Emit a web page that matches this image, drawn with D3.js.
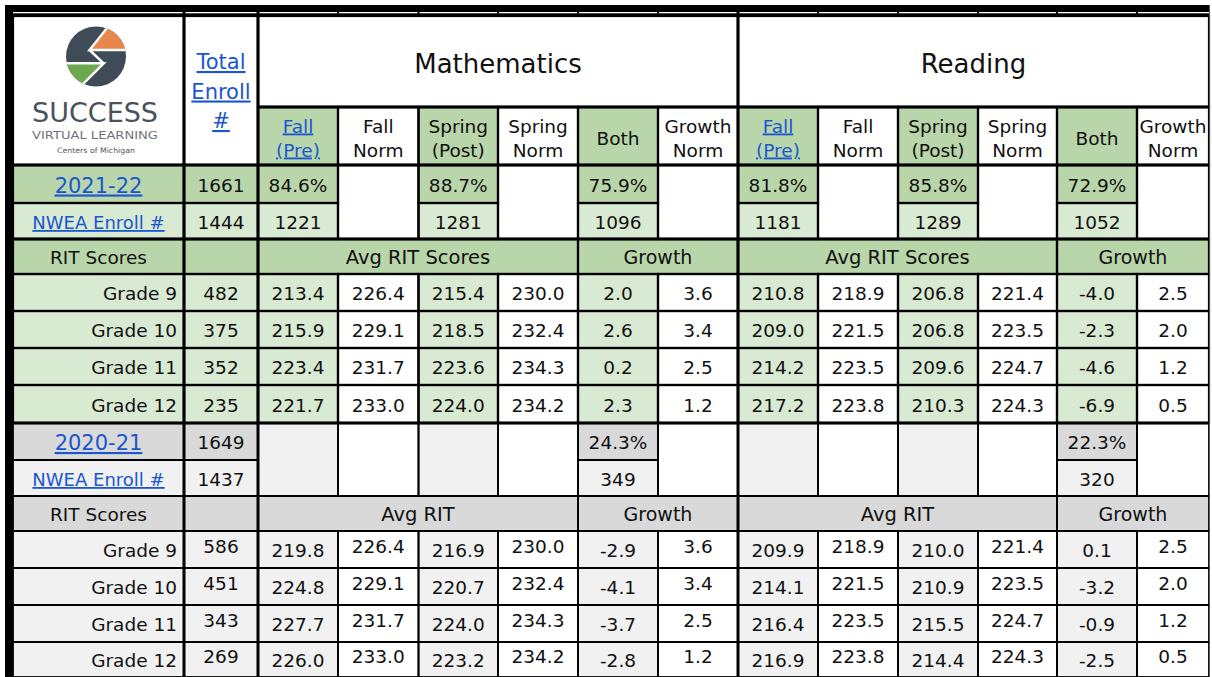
<!DOCTYPE html>
<html><head><meta charset="utf-8">
<script src="https://cdn.jsdelivr.net/npm/d3@7"></script>
<style>
html,body{margin:0;padding:0;background:#fff;}
svg{display:block;}
text{font-family:"DejaVu Sans",sans-serif;}
</style></head><body>
<svg id="chart" width="1212" height="677"></svg>
<script>
// ---------------- DATA ----------------
const subjects = ["Mathematics", "Reading"];
const measureHeaders = [["Fall","(Pre)"],["Fall","Norm"],["Spring","(Post)"],["Spring","Norm"],["Both"],["Growth","Norm"]];
const years = ["2021-22", "2020-21"];
const grades = ["Grade 9", "Grade 10", "Grade 11", "Grade 12"];
const totalEnrollLabel = ["Total", "Enroll", "#"];
const nweaLabel = "NWEA Enroll #";
const ritLabel = "RIT Scores";
const groupLabels = ["Avg RIT Scores", "Avg RIT"];
const growthLabel = "Growth";
const totalEnroll = [1661, 1649];
const nweaEnroll = [1444, 1437];
// 2021-22 participation per subject: Fall, Spring, Both
const pct2122Math = ["84.6%", "88.7%", "75.9%"];
const pct2122Read = ["81.8%", "85.8%", "72.9%"];
const cnt2122Math = [1221, 1281, 1096];
const cnt2122Read = [1181, 1289, 1052];
// 2020-21 participation (Both only) per subject
const pct2021Both = ["24.3%", "22.3%"];
const cnt2021Both = [349, 320];
const gradeEnroll2122 = [482, 375, 352, 235];
const gradeEnroll2021 = [586, 451, 343, 269];
// rows: Fall, Fall Norm, Spring, Spring Norm, Both growth, Growth Norm
const math2122 = [[213.4,226.4,215.4,230.0,2.0,3.6],[215.9,229.1,218.5,232.4,2.6,3.4],[223.4,231.7,223.6,234.3,0.2,2.5],[221.7,233.0,224.0,234.2,2.3,1.2]];
const read2122 = [[210.8,218.9,206.8,221.4,-4.0,2.5],[209.0,221.5,206.8,223.5,-2.3,2.0],[214.2,223.5,209.6,224.7,-4.6,1.2],[217.2,223.8,210.3,224.3,-6.9,0.5]];
const math2021 = [[219.8,226.4,216.9,230.0,-2.9,3.6],[224.8,229.1,220.7,232.4,-4.1,3.4],[227.7,231.7,224.0,234.3,-3.7,2.5],[226.0,233.0,223.2,234.2,-2.8,1.2]];
const read2021 = [[209.9,218.9,210.0,221.4,0.1,2.5],[214.1,221.5,210.9,223.5,-3.2,2.0],[216.4,223.5,215.5,224.7,-0.9,1.2],[216.9,223.8,214.4,224.3,-2.5,0.5]];

// ---------------- LAYOUT ----------------
const xEdges = [13,184,258,338,418.5,498,578,658,738,818,898,978,1057,1137,1209];
const yEdges = [16,107,165,203,239,274,311,348,385,423,460,496,531,568,605,642,677];
const x = d3.scaleLinear().domain(d3.range(xEdges.length)).range(xEdges);
const y = d3.scaleLinear().domain(d3.range(yEdges.length)).range(yEdges);

const C = {
  g2: "#b8d6aa", g3: "#d9ead3", w: "#ffffff",
  gr: "#d9d9d9", gl: "#f1f1f1",
  link: "#1a56d0", ink: "#111111"
};
const fmt = v => v.toFixed(1);

const cells = [];
function cell(c0, c1, r0, r1, fill, lines, o) {
  cells.push(Object.assign({c0, c1, r0, r1, fill, lines: lines || [],
    size: 18.5, color: C.ink, link: false, anchor: "middle", dy: 7.5, lh: 24}, o || {}));
}

// Header
cell(0, 1, 0, 2, C.w, []);
cell(1, 2, 0, 2, C.w, totalEnrollLabel, {size: 21, link: true, color: C.link, lh: 29.5, dy: 8});
subjects.forEach((s, si) => {
  cell(2 + 6*si, 8 + 6*si, 0, 1, C.w, [s], {size: 26, dy: 11});
  measureHeaders.forEach((h, j) => {
    cell(2 + 6*si + j, 3 + 6*si + j, 1, 2, j % 2 === 0 ? C.g2 : C.w, h,
      {dy: 8.5, link: j === 0, color: j === 0 ? C.link : C.ink});
  });
});

// Sections
const sections = [
  {r: 2, a: C.g2, b: C.g3, c: C.g2, shade: C.g3, bBg: C.g3,
   pct: [pct2122Math, pct2122Read], cnt: [cnt2122Math, cnt2122Read],
   ge: gradeEnroll2122, vals: [math2122, read2122]},
  {r: 9, a: C.gr, b: C.gl, c: C.gr, shade: C.gl, bBg: C.gl,
   ge: gradeEnroll2021, vals: [math2021, read2021]}
];
sections.forEach((S, k) => {
  const rA = S.r, rB = S.r + 1, rC = S.r + 2;
  cell(0, 1, rA, rA + 1, S.a, [years[k]], {size: 21, link: true, color: C.link, dy: 8.5});
  cell(1, 2, rA, rA + 1, S.a, [String(totalEnroll[k])]);
  cell(0, 1, rB, rB + 1, S.bBg, [nweaLabel], {size: 18, link: true, color: C.link, dy: 8});
  cell(1, 2, rB, rB + 1, S.bBg, [String(nweaEnroll[k])]);
  subjects.forEach((s, si) => {
    for (let j = 0; j < 6; j++) {
      const c = 2 + 6*si + j;
      if (j % 2 === 1) { cell(c, c + 1, rA, rB + 1, C.w, []); continue; }
      const m = j / 2;
      if (k === 0) {
        cell(c, c + 1, rA, rA + 1, S.a, [S.pct[si][m]]);
        cell(c, c + 1, rB, rB + 1, S.b, [String(S.cnt[si][m])]);
      } else if (j === 4) {
        cell(c, c + 1, rA, rA + 1, S.a, [pct2021Both[si]]);
        cell(c, c + 1, rB, rB + 1, S.b, [String(cnt2021Both[si])]);
      } else {
        cell(c, c + 1, rA, rB + 1, C.gl, []);
      }
    }
    cell(2 + 6*si, 6 + 6*si, rC, rC + 1, S.c, [groupLabels[k]], {size: 19.5});
    cell(6 + 6*si, 8 + 6*si, rC, rC + 1, S.c, [growthLabel], {size: 19});
  });
  cell(0, 1, rC, rC + 1, S.c, [ritLabel]);
  cell(1, 2, rC, rC + 1, S.c, []);
  grades.forEach((g, gi) => {
    const r = S.r + 3 + gi;
    const hi = k === 1 ? 3.5 : 7.5;
    cell(0, 1, r, r + 1, S.shade, [g], {anchor: "end"});
    cell(1, 2, r, r + 1, S.shade, [String(S.ge[gi])], {dy: hi});
    subjects.forEach((s, si) => {
      S.vals[si][gi].forEach((v, j) => {
        const c = 2 + 6*si + j;
        cell(c, c + 1, r, r + 1, j % 2 === 0 ? S.shade : C.w, [fmt(v)], {dy: j % 2 === 0 ? 7.5 : hi});
      });
    });
  });
});

// ---------------- DRAW ----------------
const svg = d3.select("#chart");

// fills
svg.append("g").selectAll("rect").data(cells).join("rect")
  .attr("x", d => x(d.c0)).attr("y", d => y(d.r0))
  .attr("width", d => x(d.c1) - x(d.c0)).attr("height", d => y(d.r1) - y(d.r0))
  .attr("fill", d => d.fill);

// grid strokes
svg.append("g").selectAll("rect").data(cells).join("rect")
  .attr("x", d => x(d.c0)).attr("y", d => y(d.r0))
  .attr("width", d => x(d.c1) - x(d.c0)).attr("height", d => y(d.r1) - y(d.r0))
  .attr("fill", "none").attr("stroke", "#000")
  .attr("stroke-width", d => d.r0 >= 9 ? 1.8 : 2.2);

// heavier rules
const heavyV = [1, 2, 8];
svg.append("g").selectAll("line").data(heavyV).join("line")
  .attr("x1", d => x(d)).attr("x2", d => x(d))
  .attr("y1", 5).attr("y2", y(16))
  .attr("stroke", "#000").attr("stroke-width", 3);
const lightV = [3,4,5,6,7,9,10,11,12,13];
svg.append("g").selectAll("line").data(lightV).join("line")
  .attr("x1", d => x(d)).attr("x2", d => x(d))
  .attr("y1", 5).attr("y2", y(0))
  .attr("stroke", "#000").attr("stroke-width", 2);
const heavyH = [{r: 1, c0: 2}, {r: 2, c0: 0}, {r: 4, c0: 0}, {r: 9, c0: 0}];
svg.append("g").selectAll("line").data(heavyH).join("line")
  .attr("x1", d => x(d.c0)).attr("x2", x(14))
  .attr("y1", d => y(d.r)).attr("y2", d => y(d.r))
  .attr("stroke", "#000").attr("stroke-width", 3);

// outer frame: left bar, top double band, right thin edge
svg.append("rect").attr("x", 5).attr("y", 5).attr("width", 8).attr("height", 672).attr("fill", "#000");
svg.append("rect").attr("x", 5).attr("y", 5).attr("width", x(14) - 5).attr("height", 7).attr("fill", "#000");
svg.append("rect").attr("x", 5).attr("y", 13.3).attr("width", x(14) - 5).attr("height", 3.2).attr("fill", "#000");
svg.append("line").attr("x1", x(14) + 0.5).attr("x2", x(14) + 0.5).attr("y1", 5).attr("y2", 677)
  .attr("stroke", "#555").attr("stroke-width", 1);

// texts
const items = cells.flatMap(d => d.lines.map((t, i) => {
  const n = d.lines.length;
  const cy = (y(d.r0) + y(d.r1)) / 2;
  return {
    t, d,
    tx: d.anchor === "end" ? x(d.c1) - 7 : (x(d.c0) + x(d.c1)) / 2,
    ty: cy + d.dy + (i - (n - 1) / 2) * d.lh
  };
}));
svg.append("g").selectAll("text").data(items).join("text")
  .attr("x", e => e.tx).attr("y", e => e.ty)
  .attr("text-anchor", e => e.d.anchor)
  .attr("font-size", e => e.d.size)
  .attr("fill", e => e.d.color)
  .style("text-decoration", e => e.d.link ? "underline" : null)
  .text(e => e.t);

// logo
const cxL = 96, cyL = 56.5, R = 30;
const defs = svg.append("defs");
defs.append("clipPath").attr("id", "lc").append("circle").attr("cx", cxL).attr("cy", cyL).attr("r", R);
const logo = svg.append("g");
logo.append("circle").attr("cx", cxL).attr("cy", cyL).attr("r", R).attr("fill", "#3f4b57");
const lg = logo.append("g").attr("clip-path", "url(#lc)");
lg.append("polygon").attr("points", "89.5,50 132,50 132,18 115,18")
  .attr("fill", "#e8874b").attr("stroke", "#fff").attr("stroke-width", 2.4);
lg.append("polygon").attr("points", "103.7,63.3 72,95 60,95 60,63.3")
  .attr("fill", "#6ba84e").attr("stroke", "#fff").attr("stroke-width", 2.4);
lg.append("line").attr("x1", 89.5).attr("y1", 50).attr("x2", 103.7).attr("y2", 63.3)
  .attr("stroke", "#fff").attr("stroke-width", 2.4);
logo.append("text").attr("x", 95).attr("y", 122).attr("text-anchor", "middle")
  .attr("font-size", 26).attr("fill", "#48535e").attr("textLength", 126)
  .attr("lengthAdjust", "spacingAndGlyphs").text("SUCCESS");
logo.append("text").attr("x", 95).attr("y", 138.5).attr("text-anchor", "middle")
  .attr("font-size", 11).attr("fill", "#6e747b").attr("textLength", 126)
  .attr("lengthAdjust", "spacingAndGlyphs").text("VIRTUAL LEARNING");
logo.append("text").attr("x", 96).attr("y", 153).attr("text-anchor", "middle")
  .attr("font-size", 7.5).attr("fill", "#555").attr("textLength", 78)
  .attr("lengthAdjust", "spacingAndGlyphs").text("Centers of Michigan");
</script>
</body></html>
